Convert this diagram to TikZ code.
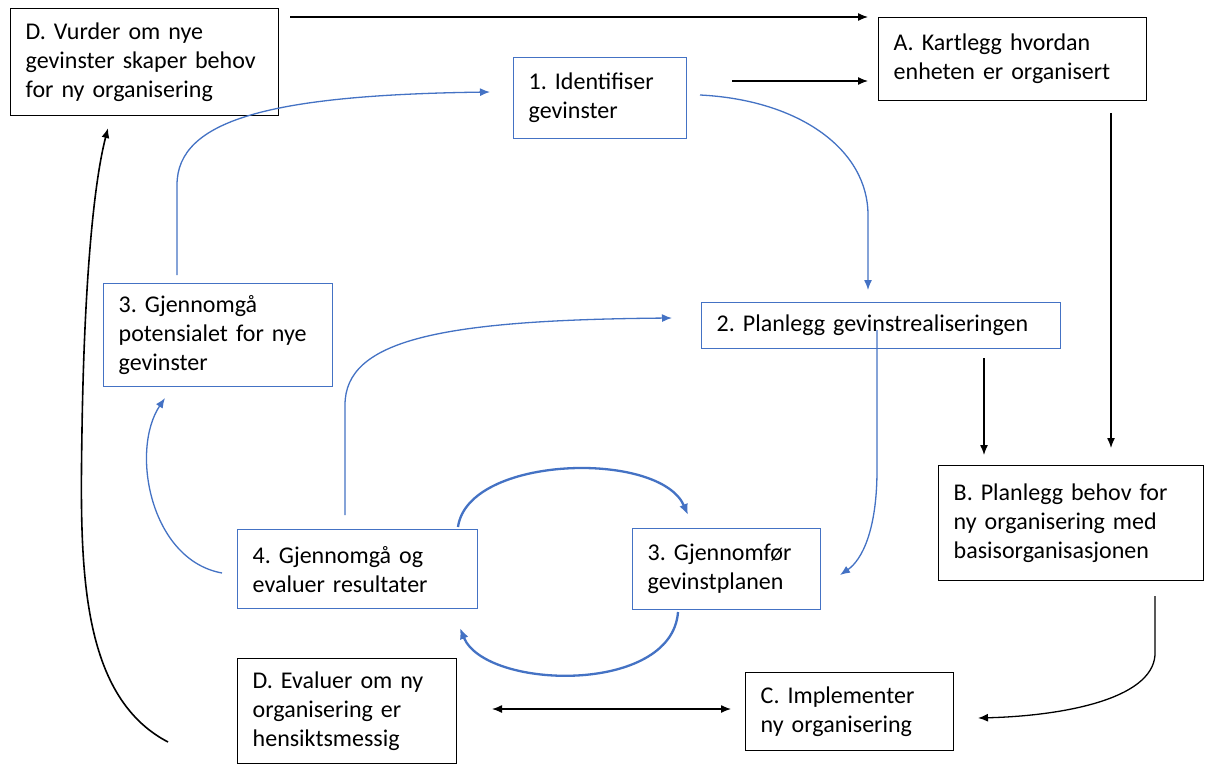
\documentclass[tikz,border=0pt]{standalone}
\usepackage{fontspec}
\setmainfont{Carlito}
\usetikzlibrary{arrows.meta}
\definecolor{bluec}{HTML}{4472C4}
\begin{document}
\frenchspacing
\begin{tikzpicture}[x=1pt,y=-1pt,
  base/.style={draw, line width=1.4pt, anchor=north west, align=left, inner xsep=15pt, inner ysep=0pt, font=\fontsize{24}{29}\selectfont\frenchspacing},
  bbox/.style={base, draw=black},
  blbox/.style={base, draw=bluec},
  barr/.style={line width=1.3pt, -{Latex[length=10pt,width=8pt]}},
  blarr/.style={line width=1.3pt, draw=bluec, -{Latex[length=10pt,width=8pt]}, bluec},
  blthick/.style={line width=2.3pt, draw=bluec, -{Latex[length=11pt,width=9pt]}, bluec}]
\useasboundingbox (0,0) rectangle (1208,765);
\fill[white] (0,0) rectangle (1208,765);

\node[bbox, text width=238pt, minimum height=107pt] (dtop) at (10,8) {D. Vurder om nye\\gevinster skaper behov\\for ny organisering};
\node[bbox, text width=238pt, minimum height=83pt] (a) at (878,17) {A. Kartlegg hvordan\\enheten er organisert};
\node[blbox, text width=143pt, minimum height=81pt] (n1) at (513,57) {1. Identifiser\\gevinster};
\node[blbox, text width=329pt, minimum height=46pt] (n2) at (701,302) {2. Planlegg gevinstrealiseringen};
\node[blbox, text width=199pt, minimum height=103pt] (n3p) at (103,283) {3. Gjennomgå\\potensialet for nye\\gevinster};
\node[blbox, text width=210pt, minimum height=79pt] (n4) at (237,529) {4. Gjennomgå og\\evaluer resultater};
\node[blbox, text width=158pt, minimum height=81pt] (n3g) at (632,528) {3. Gjennomfør\\gevinstplanen};
\node[bbox, text width=235pt, minimum height=115pt] (b) at (938,465) {B. Planlegg behov for\\ny organisering med\\basisorganisasjonen};
\node[bbox, text width=189pt, minimum height=105pt] (dev) at (237,658) {D. Evaluer om ny\\organisering er\\hensiktsmessig};
\node[bbox, text width=178pt, minimum height=78pt] (c) at (745,672) {C. Implementer\\ny organisering};

% named free ends
\coordinate (p1s) at (290,17);  \coordinate (p1e) at (868,17);
\coordinate (p2s) at (732,81);  \coordinate (p2e) at (868,81);
\coordinate (p3s) at (1111,113); \coordinate (p3e) at (1111,448);
\coordinate (p4s) at (984,358); \coordinate (p4e) at (984,455);
\coordinate (p5s) at (1155,596); \coordinate (p5e) at (978,718);
\coordinate (p6s) at (492,709); \coordinate (p6e) at (731,709);
\coordinate (p7s) at (168,742); \coordinate (p7e) at (108,128);

\draw[barr] (p1s) -- (p1e);
\draw[barr] (p2s) -- (p2e);
\draw[barr] (p3s) -- (p3e);
\draw[barr] (p4s) -- (p4e);
\draw[barr] (p5s) -- (1155,655) .. controls (1152,700) and (1060,716) .. (p5e);
\draw[line width=1.3pt, {Latex[length=10pt,width=8pt]}-{Latex[length=10pt,width=8pt]}] (p6s) -- (p6e);
\draw[line width=1.6pt, -{Latex[length=10pt,width=8pt]}] (p7s) .. controls (78,695) and (80,560) .. (82,430) .. controls (84,300) and (92,190) .. (p7e);

% blue connectors
\coordinate (q1s) at (177,275); \coordinate (q1e) at (490,92);
\coordinate (q2s) at (700,95);  \coordinate (q2e) at (868,290);
\coordinate (q3s) at (345,515); \coordinate (q3e) at (672,318);
\coordinate (q4s) at (877,330); \coordinate (q4e) at (840,575);
\coordinate (q5s) at (222,573); \coordinate (q5e) at (165,398);
\coordinate (q6s) at (458,527); \coordinate (q6e) at (688,515);
\coordinate (q7s) at (678,612); \coordinate (q7e) at (460,628);

\draw[blarr] (q1s) -- (177,185) .. controls (177,120) and (270,95) .. (q1e);
\draw[blarr] (q2s) .. controls (800,100) and (868,150) .. (868,215) -- (q2e);
\draw[blarr] (q3s) -- (345,405) .. controls (345,340) and (440,320) .. (q3e);
\draw[blarr] (q4s) -- (877,470) .. controls (877,530) and (862,560) .. (q4e);
\draw[blarr] (q5s) .. controls (150,560) and (130,450) .. (q5e);
\draw[blthick] (q6s) .. controls (468,455) and (660,450) .. (q6e);
\draw[blthick] (q7s) .. controls (672,695) and (485,690) .. (q7e);
\end{tikzpicture}
\end{document}
